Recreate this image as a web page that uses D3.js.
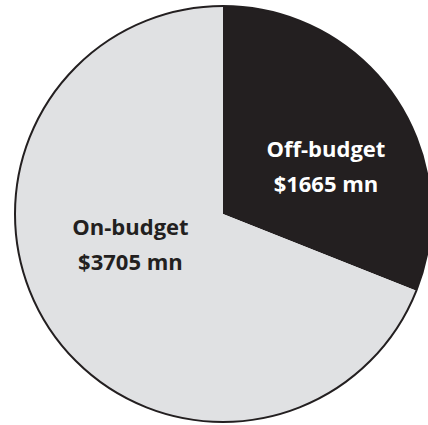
<!DOCTYPE html>
<html>
<head>
<meta charset="utf-8">
<script src="https://cdn.jsdelivr.net/npm/d3@7"></script>
<style>
  html, body { margin: 0; padding: 0; background: #fff; }
  svg { display: block; }
</style>
</head>
<body>
<div class="holderPie"></div>
<script>
var categories = ['Off-budget', 'On-budget']
var values = [1665, 3705]
var valueLabels = ['$1665 mn', '$3705 mn']
var colors = ['#231f20', '#e0e1e3']
var textColors = ['#ffffff', '#231f20']

var width = 428,
height = 425

var cx = 223, cy = 214, radius = 208

var chart = d3.select('.holderPie')
  .append('svg')
  .attr('width', width)
  .attr('height', height)

var g = chart.append('g')
  .attr('transform', 'translate(' + cx + ',' + cy + ')')

var pie = d3.pie()
  .sort(null)
  .value(function(d){ return d })

var arcs = pie(values)

var arc = d3.arc()
  .innerRadius(0)
  .outerRadius(radius)

g.selectAll('.slice')
  .data(arcs)
  .enter()
  .append('path')
  .attr('class', 'slice')
  .attr('d', arc)
  .attr('fill', function(d, i){ return colors[i] })

// outline round the whole pie
g.append('circle')
  .attr('r', radius)
  .attr('fill', 'none')
  .attr('stroke', '#231f20')
  .attr('stroke-width', 2)

// label offsets, relative to radius
var labelPos = [[0.495, -0.274], [-0.445, 0.1]]

var labels = g.selectAll('.label')
  .data(arcs)
  .enter()
  .append('text')
  .attr('class', 'label')
  .attr('text-anchor', 'middle')
  .style('font-family', '"Open Sans", sans-serif')
  .style('font-weight', 700)
  .style('font-size', '22px')
  .attr('fill', function(d, i){ return textColors[i] })
  .attr('transform', function(d, i){
    return 'translate(' + labelPos[i][0] * radius + ',' + labelPos[i][1] * radius + ')'
  })

labels.append('tspan')
  .attr('x', 0)
  .attr('y', 0)
  .text(function(d, i){ return categories[i] })

labels.append('tspan')
  .attr('x', 0)
  .attr('y', 35)
  .text(function(d, i){ return valueLabels[i] })
</script>
</body>
</html>
